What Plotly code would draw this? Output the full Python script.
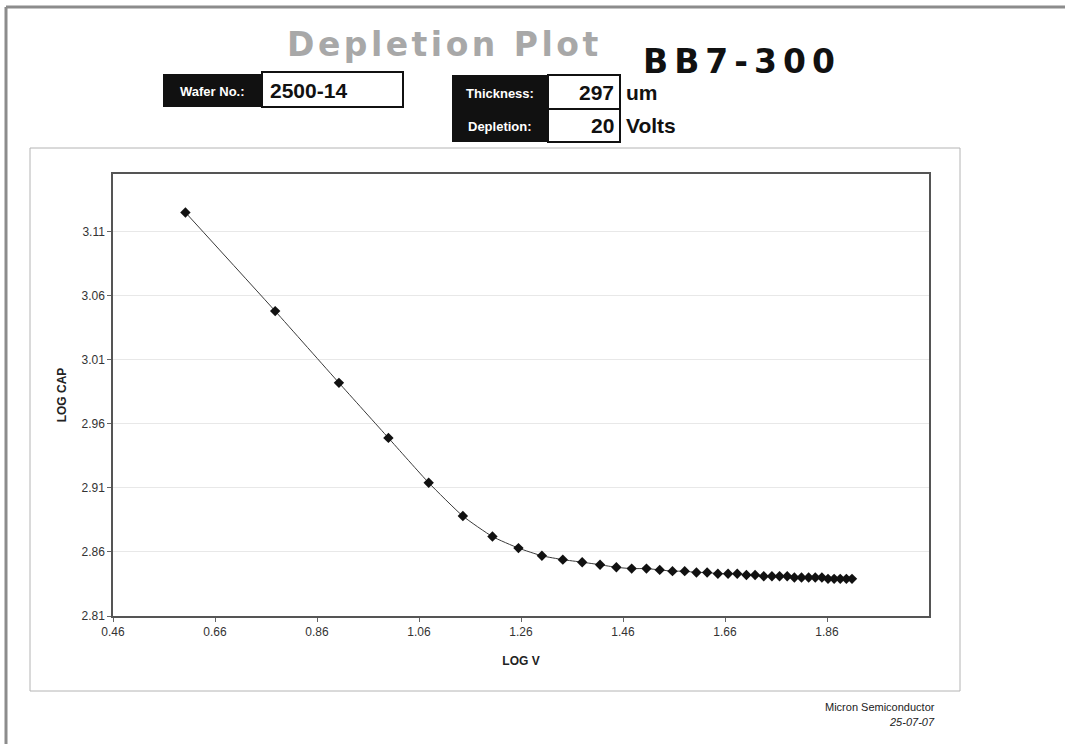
import plotly.graph_objects as go

# Measured depletion curve: log10 of bias voltage vs log10 of capacitance
LOG_V = [0.602, 0.778, 0.903, 1.000, 1.079, 1.146, 1.204, 1.255, 1.301, 1.342,
         1.380, 1.415, 1.447, 1.477, 1.506, 1.532, 1.557, 1.581, 1.604, 1.625,
         1.646, 1.666, 1.684, 1.702, 1.719, 1.736, 1.752, 1.767, 1.782, 1.796,
         1.810, 1.824, 1.837, 1.850, 1.862, 1.874, 1.886, 1.898, 1.909]
LOG_CAP = [3.125, 3.048, 2.992, 2.949, 2.914, 2.888, 2.872, 2.863, 2.857, 2.854,
           2.852, 2.850, 2.848, 2.847, 2.847, 2.846, 2.845, 2.845, 2.844, 2.844,
           2.843, 2.843, 2.843, 2.842, 2.842, 2.841, 2.841, 2.841, 2.841, 2.840,
           2.840, 2.840, 2.840, 2.840, 2.839, 2.839, 2.839, 2.839, 2.839]

X_TICKS = [0.46, 0.66, 0.86, 1.06, 1.26, 1.46, 1.66, 1.86]
Y_TICKS = [2.81, 2.86, 2.91, 2.96, 3.01, 3.06, 3.11]

WAFER_NO = "2500-14"
THICKNESS = "297"
DEPLETION = "20"
SENSOR = "BB7-300"

W, H = 1065, 744
L, R, T, B = 113, 929, 174, 616  # plot-area edges in page pixels


def px(x):
    return (x - L) / (R - L)


def py(y):
    return (B - y) / (B - T)


FONT = "Liberation Sans, Arial, sans-serif"

fig = go.Figure()
fig.add_trace(go.Scatter(
    x=LOG_V, y=LOG_CAP, mode="lines+markers",
    line=dict(color="#3a3a3a", width=1, shape="spline", smoothing=0.5),
    marker=dict(symbol="diamond", size=8, color="#111111"),
    showlegend=False, hoverinfo="x+y",
))

shapes = []


def rect(x0, y0, x1, y1, **kw):
    shapes.append(dict(type="rect", xref="paper", yref="paper",
                       x0=px(x0), x1=px(x1), y0=py(y1), y1=py(y0), **kw))


def line(x0, y0, x1, y1, **kw):
    shapes.append(dict(type="line", xref="paper", yref="paper",
                       x0=px(x0), x1=px(x1), y0=py(y0), y1=py(y1), **kw))


# page frame
line(6, 7, 1065, 7, line=dict(color="#8c8c8c", width=3))
line(6, 7, 6, 744, line=dict(color="#8c8c8c", width=3))
# chart-area frame
rect(30, 148, 960, 691, line=dict(color="#b4b4b4", width=1), fillcolor="rgba(0,0,0,0)")
# header boxes
rect(163, 74, 262, 107, line=dict(width=0), fillcolor="#111111")
rect(262, 72, 403, 107, line=dict(color="#111111", width=2), fillcolor="white")
rect(452, 75, 548, 142, line=dict(width=0), fillcolor="#111111")
rect(548, 75, 620, 109, line=dict(color="#111111", width=2), fillcolor="white")
rect(548, 109, 620, 142, line=dict(color="#111111", width=2), fillcolor="white")

ann = []


def text(x, y, s, size, color="#111111", xanchor="center", family=FONT, **kw):
    ann.append(dict(xref="paper", yref="paper", x=px(x), y=py(y), text=s,
                    showarrow=False, xanchor=xanchor, yanchor="middle",
                    font=dict(size=size, color=color, family=family), **kw))


text(444, 45, '<b><span style="letter-spacing:3.5px">Depletion Plot</span></b>', 33,
     color="#a8a8a8", family="DejaVu Sans")
text(742, 61, '<b><span style="letter-spacing:6px">' + SENSOR + '</span></b>', 33,
     color="#111111", family="DejaVu Sans")
text(212, 91, "<b>Wafer No.:</b>", 13, color="white")
text(268, 90, "<b>" + WAFER_NO + "</b>", 21, xanchor="left")
text(500, 93, "<b>Thickness:</b>", 13, color="white")
text(500, 127, "<b>Depletion:</b>", 13, color="white")
text(616, 92, "<b>" + THICKNESS + "</b>", 21, xanchor="right")
text(616, 126, "<b>" + DEPLETION + "</b>", 21, xanchor="right")
text(624, 92, "<b>um</b>", 21, xanchor="left")
text(624, 126, "<b>Volts</b>", 21, xanchor="left")
text(937, 707, "Micron Semiconductor", 11, color="#222222", xanchor="right")
text(937, 722, "<i>25-07-07</i>", 11, color="#222222", xanchor="right")

fig.update_layout(
    width=W, height=H,
    margin=dict(l=L, r=W - R, t=T, b=H - B, autoexpand=False),
    paper_bgcolor="white", plot_bgcolor="white",
    font=dict(family=FONT, size=12, color="#333333"),
    shapes=shapes, annotations=ann,
    xaxis=dict(
        range=[0.46, 2.06], tickvals=X_TICKS, ticktext=[f"{v:.2f}" for v in X_TICKS],
        showgrid=False, zeroline=False,
        showline=True, mirror=True, linecolor="#555555", linewidth=1.5,
        ticks="outside", ticklen=4, tickcolor="#666666",
        title=dict(text="<b>LOG V</b>", font=dict(size=12, color="#222222"), standoff=18),
    ),
    yaxis=dict(
        range=[2.81, 3.155], tickvals=Y_TICKS, ticktext=[f"{v:.2f}" for v in Y_TICKS],
        showgrid=True, gridcolor="#e8e8e8", gridwidth=1, zeroline=False,
        showline=True, mirror=True, linecolor="#555555", linewidth=1.5,
        ticks="outside", ticklen=4, tickcolor="#666666",
        title=dict(text="<b>LOG CAP</b>", font=dict(size=12, color="#222222"), standoff=12),
    ),
)

fig.write_html("out.html")
